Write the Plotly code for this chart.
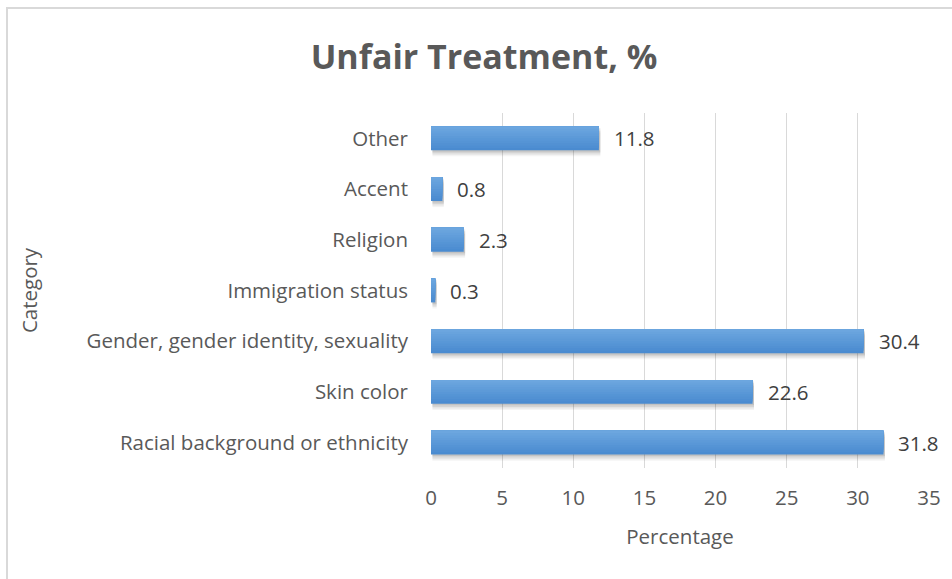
import plotly.graph_objects as go

# Survey results: share of respondents reporting unfair treatment, by reason
categories = [
    "Racial background or ethnicity",
    "Skin color",
    "Gender, gender identity, sexuality",
    "Immigration status",
    "Religion",
    "Accent",
    "Other",
]
percentages = [31.8, 22.6, 30.4, 0.3, 2.3, 0.8, 11.8]
x_ticks = [0, 5, 10, 15, 20, 25, 30, 35]

W, H = 952, 579
L, R, T, B = 431, 23, 113, 111
BAR_W = 0.47
FONT = "Open Sans"
GREY = "#595959"
SIZE = 20.5

fig = go.Figure()

# soft drop shadow under each bar
for dy, alpha in [(0.12, 0.05), (0.09, 0.07), (0.06, 0.09), (0.03, 0.10)]:
    fig.add_trace(go.Bar(
        y=categories, x=percentages, orientation="h",
        base=0.1, width=BAR_W, offset=-BAR_W / 2 - dy,
        marker=dict(color=f"rgba(40,40,40,{alpha})", line_width=0),
        hoverinfo="skip", showlegend=False,
    ))

# bars drawn as stacked strips, dark at the bottom to light at the top
bottom = (0x4a, 0x8b, 0xd0)
top = (0x6c, 0xa6, 0xdf)
N = 10
for i in range(N):
    f = i / (N - 1)
    col = "rgb({},{},{})".format(*[round(b + (t - b) * f) for b, t in zip(bottom, top)])
    frac = 1 - i / N
    fig.add_trace(go.Bar(
        y=categories, x=percentages, orientation="h",
        width=BAR_W * frac, offset=BAR_W / 2 - BAR_W * frac,
        marker=dict(color=col, line_width=0),
        hoverinfo="skip" if i else None, showlegend=False,
    ))

# value labels to the right of each bar
for cat, v in zip(categories, percentages):
    fig.add_annotation(
        x=v, y=cat, text=f"{v}", showarrow=False,
        xanchor="left", yanchor="middle", xshift=13,
        font=dict(family=FONT, size=SIZE, color="#404040"),
    )

pw = W - L - R
ph = H - T - B
# chart frame
fig.add_shape(
    type="rect", xref="paper", yref="paper",
    x0=(7 - L) / pw, x1=(W + 5 - L) / pw,
    y0=(H - B - (H + 5)) / ph, y1=(H - B - 8) / ph,
    line=dict(color="#d9d9d9", width=2), fillcolor="rgba(0,0,0,0)",
    layer="below",
)

fig.update_layout(
    width=W, height=H,
    margin=dict(l=L, r=R, t=T, b=B),
    barmode="overlay",
    paper_bgcolor="white", plot_bgcolor="white",
    title=dict(
        text="<b>Unfair Treatment, %</b>",
        font=dict(family=FONT, size=34, color=GREY),
        x=484 / W, xanchor="center", y=1 - 57 / H, yanchor="middle",
    ),
    xaxis=dict(
        range=[0, 35], tickvals=x_ticks, ticktext=[str(t) for t in x_ticks],
        showgrid=True, gridcolor="#d9d9d9", gridwidth=1,
        zeroline=False, showline=False, ticks="",
        ticklabelstandoff=15,
        tickfont=dict(family=FONT, size=SIZE, color=GREY),
        title=dict(text="Percentage", font=dict(family=FONT, size=SIZE, color=GREY),
                   standoff=20),
        automargin=False,
    ),
    yaxis=dict(
        categoryorder="array", categoryarray=categories,
        showgrid=False, zeroline=False, showline=False, ticks="",
        ticklabelstandoff=22,
        tickfont=dict(family=FONT, size=SIZE, color=GREY),
        title=dict(text="Category", font=dict(family=FONT, size=SIZE, color=GREY),
                   standoff=43),
        automargin=False,
    ),
    font=dict(family=FONT),
)

fig.write_html("out.html")
